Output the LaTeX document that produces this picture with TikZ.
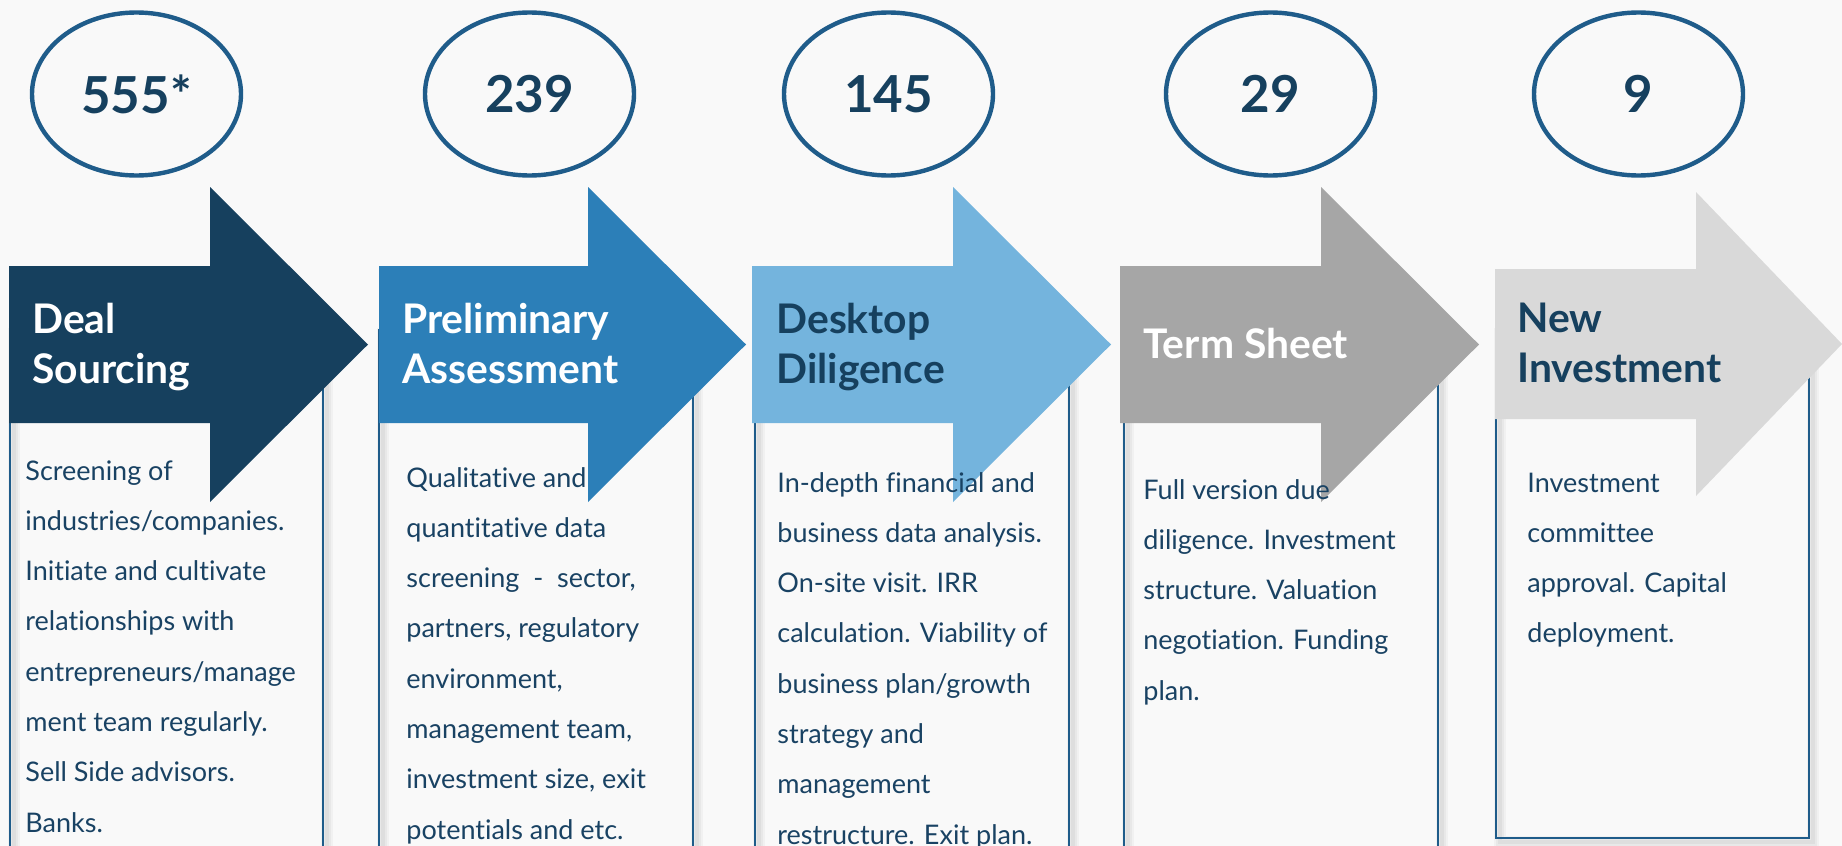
\documentclass[tikz,border=0pt]{standalone}
\usepackage{fontspec}
\setmainfont{Lato}[Ligatures=NoCommon]
\usetikzlibrary{shapes.geometric}
\definecolor{bg}{RGB}{249,249,249}
\definecolor{navy}{RGB}{22,64,94}
\definecolor{midblue}{RGB}{44,127,184}
\definecolor{lightblue}{RGB}{116,180,221}
\definecolor{midgray}{RGB}{166,166,166}
\definecolor{lightgray}{RGB}{217,217,217}
\definecolor{ringblue}{RGB}{31,92,138}
\definecolor{textnavy}{RGB}{25,66,99}
\newcommand{\bodytext}[1]{\parbox[t]{220pt}{\raggedright\fontsize{13.5}{25.15}\selectfont #1}}
\newcommand{\titletext}[1]{\parbox[t]{220pt}{\raggedright\bfseries\fontsize{20.4}{25}\selectfont #1}}
\begin{document}
\begin{tikzpicture}[x=0.5pt,y=-0.5pt,
  countring/.style={ellipse, draw=ringblue, line width=2.2pt, minimum width=104.5pt,
    minimum height=81.5pt, inner sep=0pt, text=navy,
    font=\bfseries\fontsize{25.5}{26}\selectfont},
  stagebox/.style={draw=ringblue, line width=1pt},
  boxshadow/.style={draw=black, line width=#1},
  bodynode/.style={anchor=base west, inner sep=0pt, text=textnavy},
  titlenode/.style={anchor=base west, inner sep=0pt}
]
\useasboundingbox (0,0) rectangle (1842,846);
\clip (0,0) rectangle (1842,846);
\fill[bg] (0,0) rectangle (1842,846);

% shadows and boxes
\foreach \l/\r/\b in {10/323/870, 379/693/870, 755/1069/870, 1124/1438/870, 1496/1809/838}{
  \begin{scope}[shift={(4,4)}]
    \draw[boxshadow=6pt, opacity=0.03] (\l,330) rectangle (\r,\b);
    \draw[boxshadow=4pt, opacity=0.035] (\l,330) rectangle (\r,\b);
    \draw[boxshadow=2pt, opacity=0.04] (\l,330) rectangle (\r,\b);
  \end{scope}
  \draw[stagebox] (\l,330) rectangle (\r,\b);
}

% arrows
\fill[navy] (9,266) -- (210,266) -- (210,187) -- (368,344.5) -- (210,502) -- (210,423) -- (9,423) -- cycle;
\fill[midblue] (379,266) -- (588,266) -- (588,187) -- (746,344.5) -- (588,502) -- (588,423) -- (379,423) -- cycle;
\fill[lightblue] (752,266) -- (953,266) -- (953,187) -- (1111,344.5) -- (953,502) -- (953,423) -- (752,423) -- cycle;
\fill[midgray] (1120,266) -- (1321,266) -- (1321,187) -- (1479,344.5) -- (1321,502) -- (1321,423) -- (1120,423) -- cycle;
\fill[lightgray] (1495,269) -- (1696,269) -- (1696,192) -- (1842,344) -- (1696,496) -- (1696,419) -- (1495,419) -- cycle;

% counts
\node[countring] (c1) at (136.5,94) {555*};
\node[countring] (c2) at (529.5,94) {239};
\node[countring] (c3) at (888.5,94) {145};
\node[countring] (c4) at (1270.5,94) {29};
\node[countring] (c5) at (1638.5,94) {9};

% titles
\node[titlenode, text=white] (t1) at (32,333) {\titletext{Deal\\Sourcing}};
\node[titlenode, text=white] (t2) at (402,333) {\titletext{Preliminary\\Assessment}};
\node[titlenode, text=navy] (t3) at (776,333) {\titletext{Desktop\\Diligence}};
\node[titlenode, text=white] (t4) at (1143,358) {\titletext{Term Sheet}};
\node[titlenode, text=navy] (t5) at (1517,332) {\titletext{New\\Investment}};

% body texts
\node[bodynode] (b1) at (25,480) {\bodytext{Screening of\\industries/companies.\\Initiate and cultivate\\relationships with\\entrepreneurs/manage\\ment team regularly.\\Sell Side advisors.\\Banks.}};
\node[bodynode] (b2) at (406,487) {\bodytext{Qualitative and\\quantitative data\\screening~ -~ sector,\\partners, regulatory\\environment,\\management team,\\investment size, exit\\potentials and etc.}};
\node[bodynode] (b3) at (777,492) {\bodytext{In-depth financial and\\business data analysis.\\On-site visit. IRR\\calculation. Viability of\\business plan/growth\\strategy and\\management\\restructure. Exit plan.}};
\node[bodynode] (b4) at (1143,499) {\bodytext{Full version due\\diligence. Investment\\structure. Valuation\\negotiation. Funding\\plan.}};
\node[bodynode] (b5) at (1527,492) {\bodytext{Investment\\committee\\approval. Capital\\deployment.}};
\end{tikzpicture}
\end{document}
